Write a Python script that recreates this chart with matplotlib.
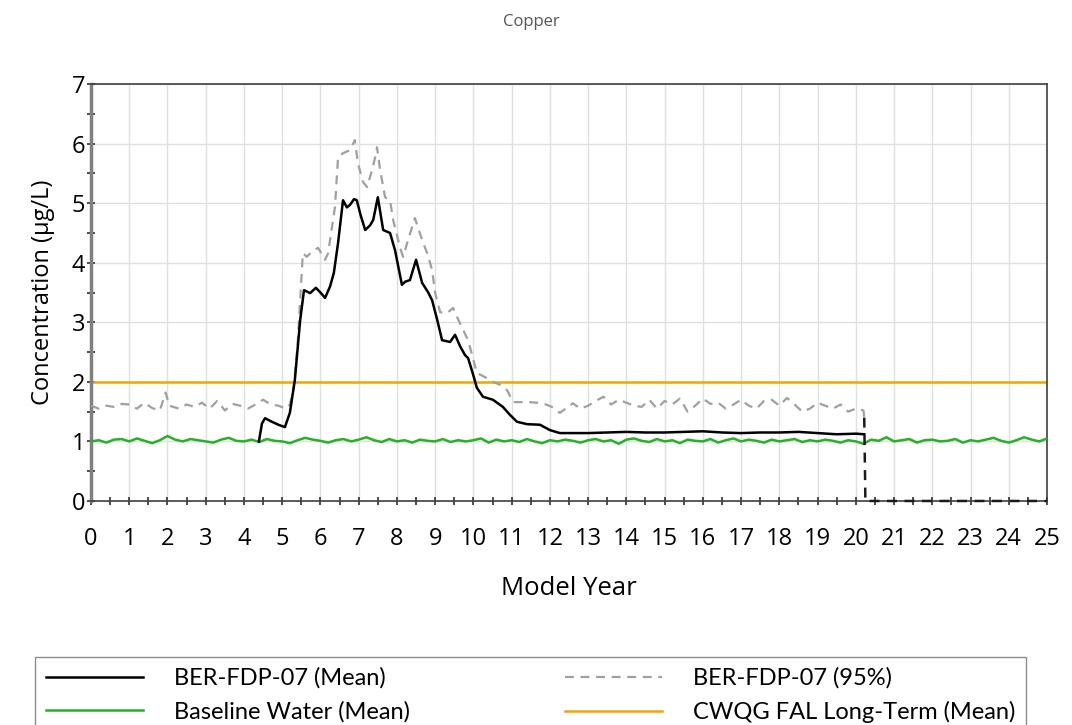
import matplotlib.pyplot as plt
from matplotlib.ticker import MultipleLocator

# data
mean_x = [4.39, 4.47, 4.55, 4.73, 4.9, 5.07, 5.2, 5.33, 5.47, 5.57, 5.73, 5.88, 6.0, 6.12, 6.25,
          6.35, 6.46, 6.59, 6.69, 6.77, 6.88, 6.95, 7.05, 7.17, 7.3, 7.38, 7.5, 7.64, 7.82, 7.95,
          8.13, 8.21, 8.34, 8.5, 8.66, 8.81, 8.92, 9.05, 9.18, 9.39, 9.52, 9.65, 9.78, 9.86, 9.98,
          10.09, 10.25, 10.51, 10.77, 10.95, 11.14, 11.4, 11.74, 12.0, 12.26, 12.5, 13.0, 13.5,
          14.0, 14.5, 15.0, 15.5, 16.0, 16.5, 17.0, 17.5, 18.0, 18.5, 19.0, 19.5, 20.0, 20.22]
mean_y = [1.0, 1.3, 1.39, 1.33, 1.28, 1.24, 1.48, 2.03, 3.04, 3.54, 3.49, 3.58, 3.5, 3.41, 3.6,
          3.83, 4.33, 5.05, 4.93, 4.97, 5.07, 5.05, 4.8, 4.55, 4.63, 4.72, 5.1, 4.55, 4.5, 4.21,
          3.63, 3.68, 3.71, 4.05, 3.66, 3.51, 3.37, 3.05, 2.7, 2.67, 2.79, 2.6, 2.45, 2.4, 2.15,
          1.9, 1.75, 1.7, 1.58, 1.45, 1.33, 1.29, 1.28, 1.19, 1.14, 1.14, 1.14, 1.15,
          1.16, 1.15, 1.15, 1.16, 1.17, 1.15, 1.14, 1.15, 1.15, 1.16, 1.14, 1.12, 1.13, 1.12]

p95_x = [0.0, 0.2, 0.4, 0.6, 0.8, 1.0, 1.2, 1.4, 1.6, 1.8, 1.95, 2.05, 2.3, 2.5, 2.7, 2.9, 3.1,
         3.3, 3.5, 3.7, 3.9, 4.1, 4.3, 4.5, 4.7, 4.9, 5.1, 5.2, 5.3, 5.4, 5.54, 5.64, 5.8, 5.94,
         6.12, 6.2, 6.38, 6.46, 6.59, 6.77, 6.9, 6.98, 7.11, 7.22, 7.35, 7.43, 7.48, 7.56, 7.69,
         7.82, 7.9, 8.08, 8.16, 8.29, 8.47, 8.66, 8.79, 8.92, 9.0, 9.13, 9.3, 9.47, 9.6, 9.86,
         10.09, 10.3, 10.51, 10.7, 10.88, 11.04, 11.48, 11.82, 12.05, 12.26, 12.6, 12.8, 13.0,
         13.2, 13.4, 13.6, 13.8, 14.0, 14.2, 14.4, 14.6, 14.8, 15.0, 15.2, 15.4, 15.6, 15.8,
         16.0, 16.2, 16.4, 16.6, 16.8, 17.0, 17.2, 17.4, 17.6, 17.8, 18.0, 18.2, 18.4, 18.6,
         18.8, 19.0, 19.2, 19.4, 19.6, 19.8, 20.0, 20.2, 20.22, 20.25, 25.0]
p95_y = [1.6, 1.55, 1.6, 1.58, 1.63, 1.62, 1.55, 1.65, 1.56, 1.52, 1.82, 1.6, 1.55, 1.62, 1.58,
         1.65, 1.55, 1.68, 1.52, 1.63, 1.6, 1.55, 1.62, 1.7, 1.62, 1.6, 1.55, 1.62, 1.9, 2.6,
         4.16, 4.1, 4.2, 4.25, 4.05, 4.16, 4.94, 5.77, 5.84, 5.89, 6.06, 5.67, 5.36, 5.27, 5.56,
         5.77, 5.94, 5.56, 5.1, 5.05, 4.72, 4.26, 4.1, 4.38, 4.75, 4.38, 4.16, 3.88, 3.49, 3.17,
         3.15, 3.24, 3.05, 2.7, 2.15, 2.08, 2.0, 1.95, 1.86, 1.66, 1.66, 1.64, 1.58, 1.48, 1.64,
         1.55, 1.6, 1.68, 1.75, 1.62, 1.7, 1.65, 1.6, 1.58, 1.7, 1.55, 1.68, 1.62, 1.72, 1.5,
         1.6, 1.72, 1.63, 1.65, 1.55, 1.62, 1.7, 1.6, 1.55, 1.68, 1.7, 1.6, 1.73, 1.62, 1.5,
         1.55, 1.65, 1.6, 1.55, 1.62, 1.5, 1.55, 1.52, 1.4, 0.0, 0.0]

base_x = [i * 0.2 for i in range(126)]
base_y = [1.0, 1.02, 0.98, 1.03, 1.04, 1.0, 1.05, 1.01, 0.97, 1.02,
          1.09, 1.03, 1.0, 1.04, 1.02, 1.0, 0.98, 1.03, 1.06, 1.01,
          1.0, 1.03, 0.99, 1.04, 1.01, 1.0, 0.97, 1.02, 1.06, 1.03,
          1.01, 0.98, 1.02, 1.04, 1.0, 1.03, 1.07, 1.02, 0.99, 1.04,
          1.0, 1.02, 0.98, 1.03, 1.01, 1.0, 1.04, 0.99, 1.02, 1.0,
          1.02, 1.05, 0.98, 1.03, 1.0, 1.02, 0.99, 1.04, 1.0, 0.97,
          1.02, 1.0, 1.03, 1.01, 0.98, 1.02, 1.04, 1.0, 1.02, 0.96,
          1.03, 1.05, 1.01, 0.99, 1.04, 1.0, 1.02, 0.97, 1.03, 1.01,
          1.0, 1.04, 0.98, 1.02, 1.05, 1.0, 1.03, 1.01, 0.98, 1.03,
          1.0, 1.02, 1.04, 0.99, 1.02, 1.0, 1.03, 1.01, 0.98, 1.02,
          1.0, 0.96, 1.03, 1.01, 1.07, 1.0, 1.02, 1.04, 0.98, 1.02,
          1.03, 1.0, 1.01, 1.04, 0.98, 1.02, 1.0, 1.03, 1.06, 1.01,
          0.98, 1.02, 1.07, 1.03, 1.0, 1.05]

guideline = 2.0

plt.rcParams['font.family'] = ['Open Sans', 'DejaVu Sans']

fig = plt.figure(figsize=(10.72, 7.25), dpi=100)
ax = fig.add_axes([0.0849, 0.309, 0.8918, 0.575])

dash = (0, (4, 3))
ax.plot(base_x, base_y, color='#22b422', lw=1.8, zorder=3, label='Baseline Water (Mean)')
# the 95% line is grey until it falls to zero, then it shows dark over the axis
ax.plot(p95_x[:-2], p95_y[:-2], color='#a0a0a0', lw=1.6, ls=dash, zorder=4, label='BER-FDP-07 (95%)')
ax.plot(p95_x[-3:], p95_y[-3:], color='#1a1a1a', lw=1.8, ls=dash, zorder=4, clip_on=False)
ax.plot(mean_x, mean_y, color='black', lw=1.8, zorder=5, label='BER-FDP-07 (Mean)')
ax.axhline(guideline, color='#f5a500', lw=1.8, zorder=2, label='CWQG FAL Long-Term (Mean)')

ax.set_xlim(0, 25)
ax.set_ylim(0, 7)
ax.xaxis.set_major_locator(MultipleLocator(1))
ax.xaxis.set_minor_locator(MultipleLocator(0.5))
ax.yaxis.set_major_locator(MultipleLocator(1))
ax.yaxis.set_minor_locator(MultipleLocator(0.5))
ax.tick_params(which='both', direction='inout', length=6, width=1.2, color='#303030')
ax.tick_params(axis='x', labelsize=17, pad=16)
ax.tick_params(axis='y', labelsize=17, pad=1)
ax.grid(which='major', color='#e0e0e0', lw=1)
ax.set_axisbelow(True)

for side in ['top', 'bottom', 'right']:
    ax.spines[side].set_color('#404040')
    ax.spines[side].set_linewidth(1.2)
ax.spines['left'].set_color('#808080')
ax.spines['left'].set_linewidth(2.5)

ax.set_xlabel('Model Year', fontsize=18.5, labelpad=18)
ax.set_ylabel('Concentration (µg/L)', fontsize=17, labelpad=12)
fig.text(0.496, 0.97, 'Copper', ha='center', va='center', fontsize=12, color='#555555')

handles, labels = ax.get_legend_handles_labels()
order = [2, 0, 1, 3]  # mean, baseline | 95%, guideline
leg = fig.legend([handles[i] for i in order], [labels[i] for i in order],
                 loc='upper left', bbox_to_anchor=(0.033, 0.094),
                 ncol=2, fancybox=False, edgecolor='#707070',
                 handlelength=4.1, handletextpad=1.3, columnspacing=6.6,
                 borderaxespad=0, labelspacing=0.5, borderpad=0.45,
                 prop={'family': 'Lato', 'size': 17})
leg.get_frame().set_linewidth(1.0)

fig.savefig('out.png', dpi=100)
